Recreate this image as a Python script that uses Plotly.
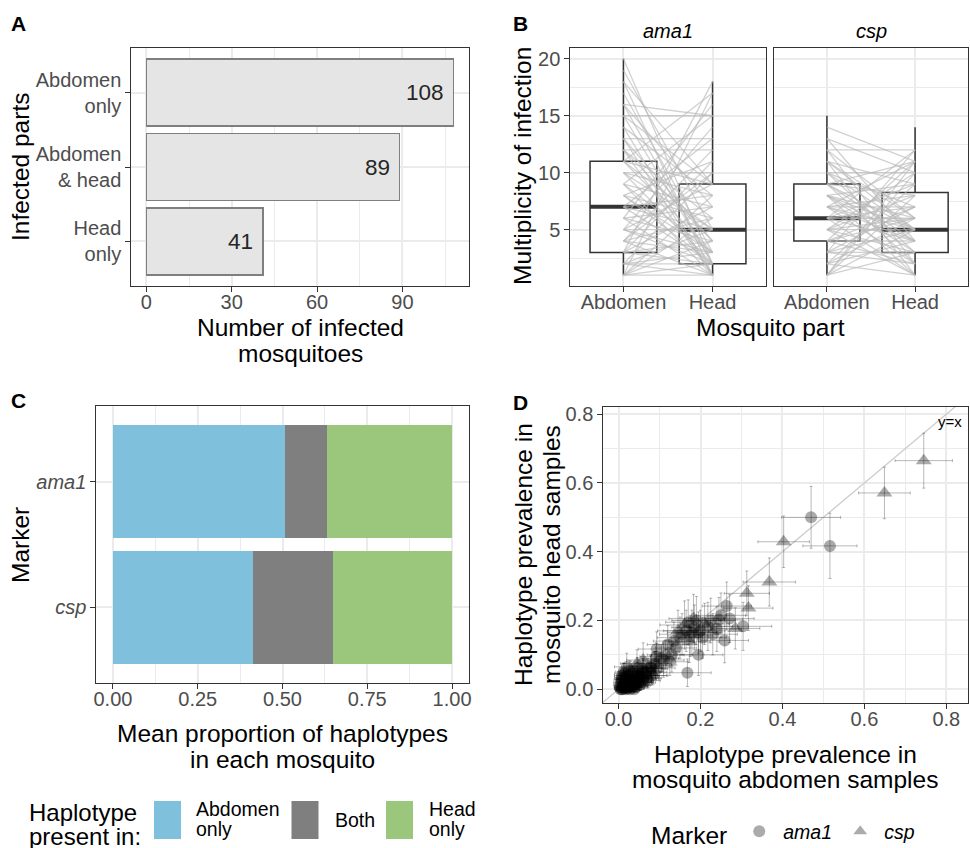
import plotly.graph_objects as go

FONT = "Liberation Sans, Arial, Helvetica, sans-serif"
W, H = 970, 848

# ---------------- Panel A data ----------------
infected_parts = ["Abdomen<br>only", "Abdomen<br>& head", "Head<br>only"]
infected_counts = [108, 89, 41]

# ---------------- Panel B data ----------------
parts = ["Abdomen", "Head"]
part_pos = [1, 2]
ama1_q1 = [3, 2]
ama1_med = [7, 5]
ama1_q3 = [11, 9]
ama1_lo = [1, 1]
ama1_hi = [20, 18]
csp_q1 = [4, 3]
csp_med = [6, 5]
csp_q3 = [9, 8.25]
csp_lo = [1, 1]
csp_hi = [15, 14]

ama1_pair_abd = [20, 19, 18, 18, 17, 16, 16, 15, 15, 14, 14, 13, 13, 12, 12, 12, 11, 11, 11, 10,
                 10, 10, 9, 9, 9, 8, 8, 8, 7, 7, 7, 7, 6, 6, 6, 5, 5, 5, 5, 4,
                 4, 4, 4, 3, 3, 3, 3, 2, 2, 2, 2, 1, 1, 1, 1, 1, 16, 15, 13, 11,
                 9, 8, 6, 3, 2, 1, 12, 10, 5, 4]
ama1_pair_head = [2, 5, 1, 9, 3, 15, 7, 15, 2, 8, 1, 13, 4, 12, 6, 1, 17, 3, 9, 10,
                  5, 2, 15, 7, 1, 11, 3, 6, 13, 2, 5, 8, 16, 4, 1, 14, 5, 2, 9, 12,
                  6, 1, 3, 18, 7, 2, 4, 10, 5, 1, 3, 17, 8, 1, 4, 6, 2, 9, 1, 5,
                  3, 2, 7, 11, 2, 2, 4, 8, 3, 10]
csp_pair_abd = [14, 13, 13, 12, 12, 12, 11, 11, 11, 10, 10, 10, 9, 9, 9, 9, 8, 8, 8, 8,
                8, 7, 7, 7, 7, 7, 6, 6, 6, 6, 6, 5, 5, 5, 5, 5, 4, 4, 4, 4,
                3, 3, 3, 3, 2, 2, 2, 2, 1, 1, 1, 1, 1, 6, 7, 8, 10, 11, 9, 5,
                4, 3]
csp_pair_head = [11, 10, 4, 12, 6, 2, 9, 5, 1, 10, 7, 3, 11, 8, 5, 2, 9, 6, 4, 1,
                 3, 8, 7, 5, 2, 11, 6, 4, 9, 1, 12, 5, 3, 8, 10, 1, 6, 4, 2, 11,
                 7, 3, 5, 12, 4, 9, 6, 1, 11, 5, 8, 3, 10, 7, 4, 5, 5, 6, 4, 6,
                 7, 2]

# ---------------- Panel C data ----------------
markers = ["ama1", "csp"]
present_in = ["Abdomen<br>only", "Both", "Head<br>only"]
prop_abd_only = [0.508, 0.414]
prop_both = [0.122, 0.234]
prop_head_only = [0.370, 0.352]
present_colors = ["#7FC1DC", "#7F7F7F", "#9BC77C"]

# ---------------- Panel D data ----------------
ama1_x = [0.470, 0.516, 0.264, 0.271, 0.245, 0.304, 0.259, 0.195, 0.168, 0.130, 0.093, 0.218, 0.179, 0.110, 0.020,
          0.200, 0.230, 0.150, 0.190, 0.080, 0.060, 0.140,
          0.165, 0.175, 0.185, 0.195, 0.205, 0.155, 0.170, 0.225, 0.240, 0.250, 0.135, 0.120,
          0.005, 0.008, 0.010, 0.012, 0.015, 0.018, 0.020, 0.022, 0.025, 0.028, 0.030, 0.032, 0.035, 0.038, 0.040,
          0.042, 0.045, 0.048, 0.050, 0.055, 0.060, 0.065, 0.070, 0.003, 0.006, 0.009, 0.012, 0.015, 0.020, 0.025,
          0.030, 0.018, 0.024, 0.034, 0.044, 0.004, 0.007, 0.014, 0.021, 0.029,
          0.035, 0.040, 0.050, 0.058, 0.068, 0.078, 0.088, 0.098, 0.105, 0.115, 0.125, 0.012, 0.008, 0.016, 0.022,
          0.032, 0.042, 0.052, 0.062, 0.072, 0.006, 0.026, 0.046, 0.082, 0.092]
ama1_y = [0.500, 0.417, 0.242, 0.206, 0.202, 0.183, 0.142, 0.100, 0.048, 0.100, 0.117, 0.183, 0.165, 0.085, 0.065,
          0.170, 0.160, 0.150, 0.200, 0.060, 0.050, 0.120,
          0.170, 0.155, 0.180, 0.165, 0.150, 0.160, 0.195, 0.200, 0.175, 0.215, 0.140, 0.130,
          0.000, 0.005, 0.000, 0.010, 0.003, 0.000, 0.008, 0.015, 0.005, 0.000, 0.012, 0.020, 0.008, 0.000, 0.015,
          0.025, 0.010, 0.030, 0.020, 0.035, 0.028, 0.040, 0.033, 0.012, 0.020, 0.028, 0.035, 0.045, 0.030, 0.040,
          0.050, 0.022, 0.018, 0.030, 0.040, 0.006, 0.000, 0.018, 0.002, 0.018,
          0.045, 0.052, 0.040, 0.060, 0.050, 0.065, 0.075, 0.062, 0.090, 0.100, 0.080, 0.050, 0.040, 0.030, 0.008,
          0.004, 0.006, 0.012, 0.020, 0.025, 0.030, 0.055, 0.062, 0.040, 0.095]
ama1_ex = [0.072, 0.066, 0.060, 0.060, 0.058, 0.070, 0.058, 0.060, 0.058, 0.050, 0.045, 0.060, 0.060, 0.050, 0.030,
           0.060, 0.060, 0.055, 0.060, 0.040, 0.040, 0.050,
           0.055, 0.055, 0.055, 0.058, 0.058, 0.055, 0.055, 0.060, 0.060, 0.060, 0.050, 0.050,
           0.015, 0.018, 0.015, 0.020, 0.018, 0.015, 0.022, 0.025, 0.020, 0.018, 0.025, 0.028, 0.022, 0.018, 0.028,
           0.030, 0.025, 0.032, 0.030, 0.035, 0.032, 0.035, 0.035, 0.015, 0.018, 0.020, 0.022, 0.025, 0.025, 0.028,
           0.030, 0.022, 0.024, 0.028, 0.032, 0.015, 0.015, 0.020, 0.020, 0.025,
           0.025, 0.028, 0.030, 0.032, 0.035, 0.038, 0.040, 0.040, 0.042, 0.045, 0.045, 0.020, 0.018, 0.020, 0.018,
           0.020, 0.022, 0.025, 0.028, 0.030, 0.015, 0.022, 0.028, 0.035, 0.040]
ama1_ey = [0.090, 0.095, 0.070, 0.070, 0.065, 0.070, 0.065, 0.060, 0.040, 0.050, 0.050, 0.070, 0.065, 0.050, 0.040,
           0.060, 0.060, 0.060, 0.070, 0.040, 0.040, 0.050,
           0.060, 0.060, 0.065, 0.060, 0.060, 0.060, 0.065, 0.065, 0.065, 0.065, 0.055, 0.055,
           0.010, 0.012, 0.010, 0.015, 0.012, 0.010, 0.015, 0.020, 0.012, 0.010, 0.018, 0.022, 0.015, 0.010, 0.020,
           0.025, 0.018, 0.028, 0.022, 0.030, 0.028, 0.032, 0.030, 0.015, 0.020, 0.022, 0.025, 0.030, 0.025, 0.028,
           0.032, 0.020, 0.018, 0.025, 0.030, 0.010, 0.008, 0.018, 0.010, 0.020,
           0.025, 0.028, 0.025, 0.030, 0.030, 0.032, 0.035, 0.035, 0.040, 0.042, 0.040, 0.025, 0.022, 0.020, 0.012,
           0.010, 0.012, 0.015, 0.018, 0.020, 0.018, 0.028, 0.030, 0.028, 0.040]

csp_x = [0.745, 0.649, 0.403, 0.368, 0.313, 0.317, 0.285, 0.161, 0.173, 0.183, 0.210, 0.145, 0.060, 0.045, 0.090,
         0.010, 0.015, 0.020, 0.025, 0.030, 0.035, 0.040, 0.045, 0.050, 0.055, 0.062, 0.072, 0.080, 0.085, 0.016,
         0.026, 0.036, 0.046]
csp_y = [0.665, 0.571, 0.429, 0.312, 0.279, 0.236, 0.177, 0.187, 0.138, 0.206, 0.190, 0.170, 0.085, 0.075, 0.070,
         0.004, 0.012, 0.002, 0.018, 0.008, 0.025, 0.015, 0.032, 0.022, 0.045, 0.055, 0.060, 0.050, 0.040, 0.030,
         0.038, 0.022, 0.032]
csp_ex = [0.070, 0.063, 0.063, 0.064, 0.055, 0.060, 0.060, 0.060, 0.050, 0.060, 0.060, 0.050, 0.040, 0.040, 0.040,
          0.015, 0.018, 0.018, 0.020, 0.022, 0.025, 0.025, 0.028, 0.030, 0.032, 0.035, 0.035, 0.038, 0.035, 0.020,
          0.022, 0.025, 0.028]
csp_ey = [0.080, 0.075, 0.075, 0.070, 0.065, 0.065, 0.060, 0.070, 0.060, 0.070, 0.060, 0.060, 0.050, 0.040, 0.040,
          0.010, 0.012, 0.010, 0.015, 0.012, 0.018, 0.015, 0.020, 0.018, 0.025, 0.028, 0.030, 0.028, 0.025, 0.020,
          0.022, 0.018, 0.020]
identity_line = [-0.1, 1.0]

# ---------------- helpers ----------------
def px_x(p):
    return p / W


def px_y(p):
    return 1 - p / H


TITLE = 24.5
TICKFONT = dict(family=FONT, size=20, color="#4d4d4d")
GRID = "#ebebeb"
FRAME = "#333333"


def axis(domain, anchor, **kw):
    d = dict(domain=domain, anchor=anchor, showline=True, mirror=True, linecolor=FRAME, linewidth=1.4,
             ticks="outside", ticklen=4.5, tickwidth=1.2, tickcolor=FRAME, tickfont=TICKFONT,
             showgrid=True, gridcolor=GRID, gridwidth=1.6, zeroline=False, fixedrange=True,
             automargin=False, layer="above traces")
    d.update(kw)
    return d


def xaxis(domain, anchor, **kw):
    kw.setdefault("ticklabelstandoff", -7)
    return axis(domain, anchor, **kw)


def minor(vals):
    return dict(tickvals=vals, showgrid=True, gridcolor=GRID, gridwidth=0.8, ticks="")


fig = go.Figure()

# ---- Panel A: bars ----
fig.add_trace(go.Bar(x=infected_counts, y=infected_parts, orientation="h", width=0.9,
                     marker=dict(color="#e5e5e5", line=dict(color="#7f7f7f", width=1.6)),
                     xaxis="x", yaxis="y", showlegend=False, hoverinfo="skip"))

# ---- Panel B: boxes + paired lines ----
for xa, ya, q1, med, q3, lo, hi, pa, ph in [
        ("x2", "y2", ama1_q1, ama1_med, ama1_q3, ama1_lo, ama1_hi, ama1_pair_abd, ama1_pair_head),
        ("x3", "y3", csp_q1, csp_med, csp_q3, csp_lo, csp_hi, csp_pair_abd, csp_pair_head)]:
    fig.add_trace(go.Box(x=part_pos, q1=q1, median=med, q3=q3, lowerfence=lo, upperfence=hi,
                         width=0.75, whiskerwidth=0, fillcolor="white",
                         line=dict(color="#333333", width=1.5), boxpoints=False,
                         xaxis=xa, yaxis=ya, showlegend=False, hoverinfo="skip"))
    mx, my = [], []
    for p, m in zip(part_pos, med):
        mx += [p - 0.375, p + 0.375, None]
        my += [m, m, None]
    fig.add_trace(go.Scatter(x=mx, y=my, mode="lines", line=dict(color="#333333", width=4),
                             xaxis=xa, yaxis=ya, showlegend=False, hoverinfo="skip"))
    lx, ly = [], []
    for a, h in zip(pa, ph):
        lx += [part_pos[0], part_pos[1], None]
        ly += [a, h, None]
    fig.add_trace(go.Scatter(x=lx, y=ly, mode="lines", line=dict(color="rgba(185,185,185,0.65)", width=1.3),
                             xaxis=xa, yaxis=ya, showlegend=False, hoverinfo="skip"))

# ---- Panel C: stacked bars ----
for vals, col in zip([prop_abd_only, prop_both, prop_head_only], present_colors):
    fig.add_trace(go.Bar(x=vals, y=markers, orientation="h", width=0.9, marker=dict(color=col, line=dict(width=0)),
                         xaxis="x4", yaxis="y4", showlegend=False, hoverinfo="skip"))

# ---- Panel D: scatter with error bars ----
fig.add_trace(go.Scatter(x=identity_line, y=identity_line, mode="lines", line=dict(color="#cccccc", width=1.3),
                         xaxis="x5", yaxis="y5", showlegend=False, hoverinfo="skip"))
PT = "rgba(0,0,0,0.33)"
EB = "rgba(0,0,0,0.28)"
fig.add_trace(go.Scatter(x=ama1_x, y=ama1_y, mode="markers", name="<i>ama1</i>",
                         marker=dict(symbol="circle", size=12, color=PT, line=dict(width=0)),
                         error_x=dict(type="data", array=ama1_ex, color=EB, thickness=1, width=1.5),
                         error_y=dict(type="data", array=ama1_ey, color=EB, thickness=1, width=1.5),
                         xaxis="x5", yaxis="y5", hoverinfo="skip"))
fig.add_trace(go.Scatter(x=csp_x, y=csp_y, mode="markers", name="<i>csp</i>",
                         marker=dict(symbol="triangle-up", size=14, color=PT, line=dict(width=0)),
                         error_x=dict(type="data", array=csp_ex, color=EB, thickness=1, width=1.5),
                         error_y=dict(type="data", array=csp_ey, color=EB, thickness=1, width=1.5),
                         xaxis="x5", yaxis="y5", hoverinfo="skip"))

# ---------------- axes ----------------
yA = [px_y(286), px_y(48)]
layout = dict(
    width=W, height=H, margin=dict(l=0, r=0, t=0, b=0, autoexpand=False),
    paper_bgcolor="white", plot_bgcolor="white",
    font=dict(family=FONT, color="black"),
    barmode="stack", boxmode="overlay",
    xaxis=xaxis([px_x(131), px_x(469)], "y", range=[-5.4, 113.4], tickvals=[0, 30, 60, 90],
                minor=minor([15, 45, 75, 105])),
    yaxis=axis(yA, "x", type="category", categoryorder="array", categoryarray=infected_parts,
               range=[2.6, -0.6]),
    xaxis2=xaxis([px_x(570), px_x(766)], "y2", range=[0.4, 2.6], tickvals=part_pos, ticktext=parts),
    yaxis2=axis(yA, "x2", range=[0.05, 20.95], tickvals=[5, 10, 15, 20],
                minor=minor([2.5, 7.5, 12.5, 17.5])),
    xaxis3=xaxis([px_x(774), px_x(968)], "y3", range=[0.4, 2.6], tickvals=part_pos, ticktext=parts),
    yaxis3=axis(yA, "x3", range=[0.05, 20.95], tickvals=[5, 10, 15, 20], showticklabels=False, ticks="",
                minor=minor([2.5, 7.5, 12.5, 17.5])),
    xaxis4=xaxis([px_x(96), px_x(469)], "y4", range=[-0.05, 1.05], tickvals=[0, 0.25, 0.5, 0.75, 1.0],
                 ticktext=["0.00", "0.25", "0.50", "0.75", "1.00"], minor=minor([0.125, 0.375, 0.625, 0.875])),
    yaxis4=axis([px_y(683), px_y(406)], "x4", type="category", categoryorder="array", categoryarray=markers,
                range=[1.6, -0.6], tickmode="array", tickvals=markers,
                ticktext=["<i>%s</i>" % m for m in markers]),
    xaxis5=xaxis([px_x(603), px_x(968)], "y5", range=[-0.038, 0.853], tickvals=[0, 0.2, 0.4, 0.6, 0.8],
                 ticktext=["0.0", "0.2", "0.4", "0.6", "0.8"], minor=minor([0.1, 0.3, 0.5, 0.7])),
    yaxis5=axis([px_y(703), px_y(407)], "x5", range=[-0.04, 0.821], tickvals=[0, 0.2, 0.4, 0.6, 0.8],
                ticktext=["0.0", "0.2", "0.4", "0.6", "0.8"], minor=minor([0.1, 0.3, 0.5, 0.7])),
    showlegend=True,
    legend=dict(orientation="h", x=px_x(649), y=px_y(854), xanchor="left", yanchor="bottom",
                title=dict(text="Marker", font=dict(size=TITLE, color="black"), side="left"),
                font=dict(size=19.5, color="black", family=FONT), bgcolor="rgba(0,0,0,0)",
                itemsizing="constant", itemwidth=38, entrywidth=48, entrywidthmode="pixels",
                traceorder="normal"),
)
fig.update_layout(**layout)

ann = []


def text(x, y, s, size=TITLE, **kw):
    d = dict(x=x, y=y, xref="paper", yref="paper", text=s, showarrow=False,
             xanchor="center", yanchor="middle",
             font=dict(family=FONT, size=size, color=kw.pop("color", "black")))
    d.update(kw)
    ann.append(d)


# panel letters
for lab, (lx, ly) in zip("ABCD", [(18, 24), (520, 24), (18, 400), (520, 402)]):
    text(px_x(lx), px_y(ly), "<b>%s</b>" % lab, size=21)

# bar labels in A
for v, c in zip(infected_counts, infected_parts):
    ann.append(dict(x=v, y=c, xref="x", yref="y", text=str(v), showarrow=False, xanchor="right",
                    yanchor="middle", xshift=-8, font=dict(family=FONT, size=22.5, color="#262626")))

# axis titles
text(px_x(20), px_y(167), "Infected parts", textangle=-90)
text(px_x(300), px_y(327), "Number of infected")
text(px_x(300), px_y(353), "mosquitoes")
text(px_x(522), px_y(166), "Multiplicity of infection", textangle=-90)
text(px_x(770), px_y(327), "Mosquito part")
text(px_x(668), px_y(31), "<i>ama1</i>", size=20)
text(px_x(871), px_y(31), "<i>csp</i>", size=20)
text(px_x(20), px_y(545), "Marker", textangle=-90)
text(px_x(282), px_y(733), "Mean proportion of haplotypes")
text(px_x(282), px_y(759), "in each mosquito")
text(px_x(523), px_y(555), "Haplotype prevalence in", textangle=-90)
text(px_x(551), px_y(555), "mosquito head samples", textangle=-90)
text(px_x(785), px_y(754), "Haplotype prevalence in")
text(px_x(785), px_y(779), "mosquito abdomen samples")
ann.append(dict(x=0.808, y=0.778, xref="x5", yref="y5", text="y=x", showarrow=False,
                font=dict(family=FONT, size=15, color="black")))

# legend for panel C (fill colours)
text(px_x(27), px_y(812), "Haplotype", size=24, xanchor="left")
text(px_x(27), px_y(836), "present in:", size=24, xanchor="left")
key_left = [154, 291.5, 386]
label_left = [194, 333, 427]
shapes = []
for kl, ll, col, lab in zip(key_left, label_left, present_colors, present_in):
    shapes.append(dict(type="rect", xref="paper", yref="paper", x0=px_x(kl), x1=px_x(kl + 27),
                       y0=px_y(839), y1=px_y(801), fillcolor=col, line=dict(width=0)))
    lines = lab.split("<br>")
    if len(lines) == 1:
        text(px_x(ll), px_y(820), lines[0], size=19.5, xanchor="left")
    else:
        text(px_x(ll), px_y(809), lines[0], size=19.5, xanchor="left")
        text(px_x(ll), px_y(829), lines[1], size=19.5, xanchor="left")

fig.update_layout(annotations=ann, shapes=shapes)
fig.write_html("out.html", config={"displayModeBar": False},
               post_script="document.body.style.margin='0';document.body.style.overflow='hidden';")
